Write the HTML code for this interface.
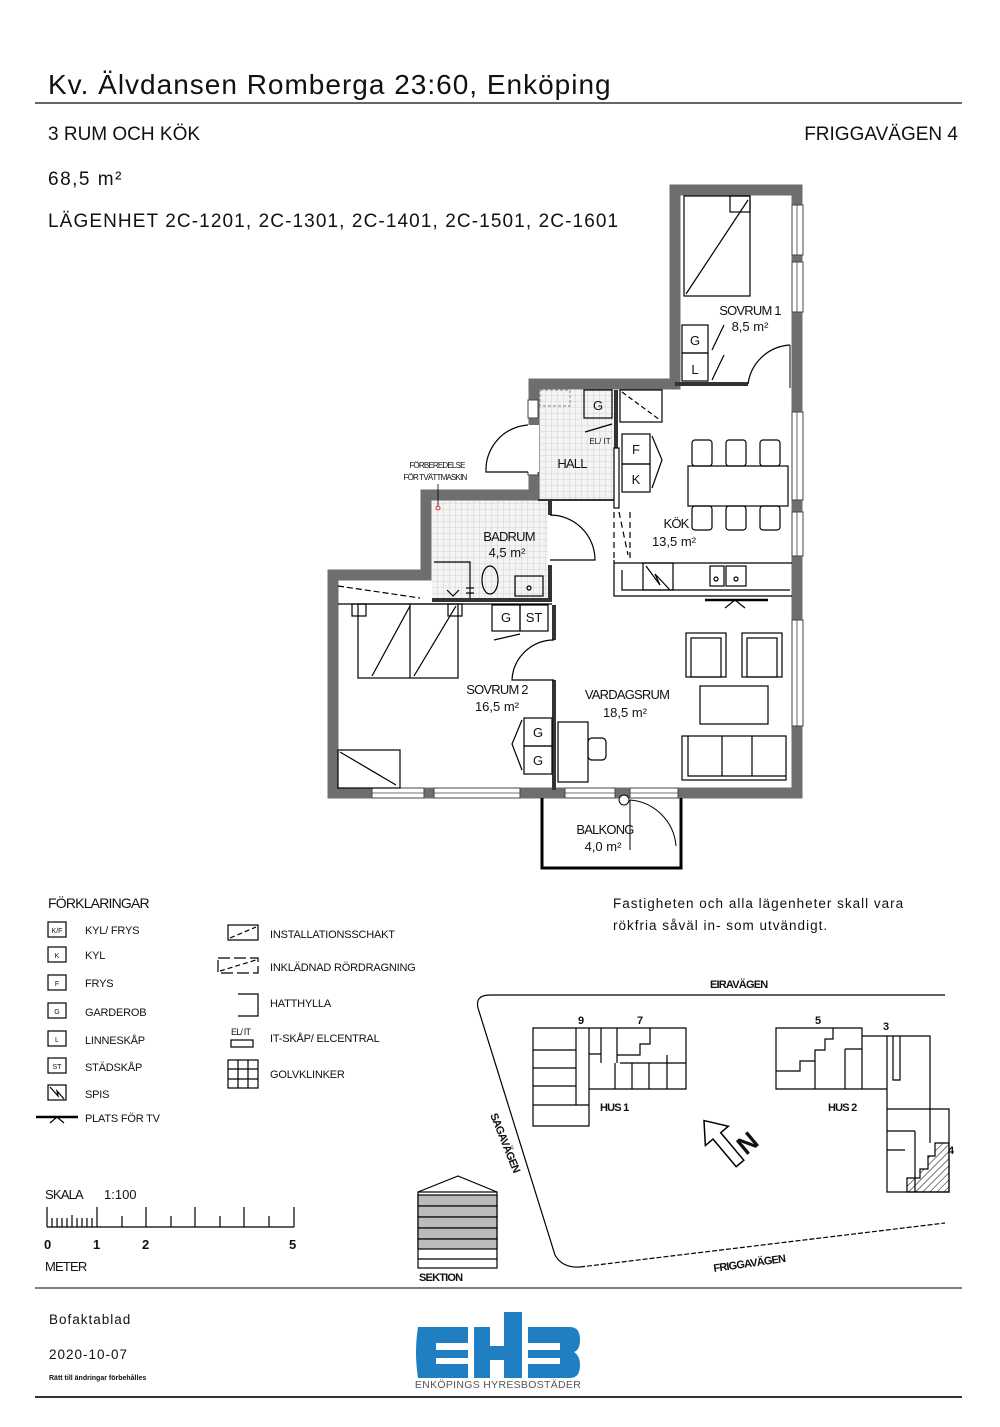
<!DOCTYPE html>
<html><head><meta charset="utf-8"><style>
html,body{margin:0;padding:0;background:#fff}
svg{display:block}
text{font-family:"Liberation Sans",sans-serif;fill:#111}
.c{letter-spacing:-0.8px}
</style></head><body>
<svg width="1000" height="1427" viewBox="0 0 1000 1427" xmlns="http://www.w3.org/2000/svg">
<defs>
<pattern id="grid" width="6" height="6" patternUnits="userSpaceOnUse"><rect width="6" height="6" fill="#f4f4f4"/><path d="M6 0V6M0 6H6" stroke="#c8c8c8" stroke-width="0.8"/></pattern>
<pattern id="hatch" width="5" height="5" patternUnits="userSpaceOnUse" patternTransform="rotate(45)"><line x1="0" y1="0" x2="0" y2="5" stroke="#000" stroke-width="1"/></pattern>
</defs>

<!-- header -->
<text x="48" y="94" font-size="28" style="letter-spacing:1px">Kv. Älvdansen Romberga 23:60, Enköping</text>
<line x1="35" y1="103" x2="962" y2="103" stroke="#333" stroke-width="1.5"/>
<text x="48" y="140" font-size="19" style="letter-spacing:0px">3 RUM OCH KÖK</text>
<text x="958" y="140" font-size="19" text-anchor="end" style="letter-spacing:0px">FRIGGAVÄGEN 4</text>
<text x="48" y="185" font-size="19" style="letter-spacing:1.5px">68,5 m²</text>
<text x="48" y="227" font-size="19" style="letter-spacing:1.1px">LÄGENHET 2C-1201, 2C-1301, 2C-1401, 2C-1501, 2C-1601</text>

<!-- floor plan fills -->
<rect x="538" y="390" width="76" height="110" fill="url(#grid)"/>
<rect x="432" y="500" width="116" height="100" fill="url(#grid)"/>

<!-- outer walls -->
<path d="M675 190 H797 V793 H333 V575 H426 V495 H534 V384 H675 Z" fill="none" stroke="#6e6e6e" stroke-width="11"/>
<g fill="#fff" stroke="#444" stroke-width="1">
<rect x="792" y="205" width="11" height="50"/><rect x="792" y="262" width="11" height="50"/>
<rect x="792" y="412" width="11" height="88"/><rect x="792" y="512" width="11" height="44"/>
<rect x="792" y="620" width="11" height="106"/>
<rect x="372" y="788" width="52" height="10"/><rect x="434" y="788" width="86" height="10"/>
<rect x="565" y="788" width="50" height="10"/><rect x="630" y="788" width="48" height="10"/>
<rect x="528" y="400" width="10" height="18" /><rect x="528" y="445" width="10" height="30"/>
</g>
<g stroke="#444" stroke-width="0.8"><line x1="797" y1="205" x2="797" y2="255"/><line x1="797" y1="262" x2="797" y2="312"/><line x1="797" y1="412" x2="797" y2="500"/><line x1="797" y1="512" x2="797" y2="556"/><line x1="797" y1="620" x2="797" y2="726"/><line x1="372" y1="793" x2="424" y2="793"/><line x1="434" y1="793" x2="520" y2="793"/><line x1="565" y1="793" x2="615" y2="793"/><line x1="630" y1="793" x2="678" y2="793"/></g>
<rect x="527" y="425" width="12" height="47" fill="#fff"/>
<path d="M528 425 A45 45 0 0 0 486 472 H528" fill="none" stroke="#000" stroke-width="1.2"/>

<!-- balkong -->
<path d="M542 798 V868 H681 V798" fill="none" stroke="#000" stroke-width="3"/>
<path d="M630 800 A50 50 0 0 1 676 846" fill="none" stroke="#000" stroke-width="1"/>
<line x1="630" y1="800" x2="630" y2="850" stroke="#000" stroke-width="1"/>
<circle cx="624" cy="800" r="5" fill="#fff" stroke="#000"/>

<!-- interior walls -->
<g stroke="#333" stroke-width="4" fill="none">
<line x1="675" y1="384" x2="748" y2="384"/>
<line x1="616" y1="390" x2="616" y2="508"/>
<line x1="432" y1="600" x2="552" y2="600"/>
<line x1="550" y1="500" x2="550" y2="515"/>
<line x1="550" y1="565" x2="550" y2="600"/>
<line x1="554" y1="605" x2="554" y2="640"/>
<line x1="554" y1="680" x2="554" y2="790"/>
<line x1="538" y1="500" x2="614" y2="500" stroke-width="2"/>
</g>
<path d="M790 345 A45 45 0 0 0 748 384" fill="none" stroke="#000" stroke-width="1.2"/>
<line x1="790" y1="345" x2="790" y2="388" stroke="#000"/>
<path d="M550 515 A45 45 0 0 1 595 560 H550" fill="none" stroke="#000" stroke-width="1.2"/>
<path d="M554 640 A42 42 0 0 0 512 680 H554" fill="none" stroke="#000" stroke-width="1.2"/>

<!-- sovrum 1 furniture -->
<g stroke="#000" stroke-width="1.2" fill="none">
<rect x="684" y="196" width="66" height="100"/><rect x="730" y="196" width="20" height="16"/>
<line x1="686" y1="294" x2="748" y2="200"/>
<rect x="682" y="325" width="26" height="28"/><rect x="682" y="353" width="26" height="28"/>
<line x1="712" y1="350" x2="724" y2="325"/><line x1="712" y1="380" x2="724" y2="355"/>
</g>
<text x="695" y="345" font-size="13" text-anchor="middle">G</text>
<text x="695" y="374" font-size="13" text-anchor="middle">L</text>
<text x="750" y="315" font-size="13" text-anchor="middle" class="c">SOVRUM 1</text>
<text x="750" y="331" font-size="13" text-anchor="middle">8,5 m²</text>

<!-- hall / kitchen -->
<g stroke="#000" stroke-width="1.2" fill="none">
<rect x="584" y="390" width="28" height="28"/>
<rect x="620" y="390" width="42" height="32"/><line x1="622" y1="392" x2="660" y2="420" stroke-dasharray="5,3"/>
<line x1="585" y1="432" x2="612" y2="424"/>
<rect x="622" y="434" width="28" height="30"/><rect x="622" y="464" width="28" height="28"/>
<path d="M652 436 L662 460 L652 488"/>
<rect x="540" y="390" width="30" height="16" stroke="#999" stroke-dasharray="3,2"/>
<rect x="614" y="448" width="5" height="60" fill="#fff"/>
<line x1="614" y1="512" x2="614" y2="560" stroke-dasharray="6,4"/><line x1="630" y1="512" x2="630" y2="560" stroke-dasharray="6,4"/>
<line x1="619" y1="512" x2="628" y2="555" stroke-dasharray="6,4"/>
<rect x="688" y="466" width="100" height="40"/>
<rect x="692" y="440" width="20" height="26" rx="3"/><rect x="726" y="440" width="20" height="26" rx="3"/><rect x="760" y="440" width="20" height="26" rx="3"/>
<rect x="692" y="506" width="20" height="24" rx="3"/><rect x="726" y="506" width="20" height="24" rx="3"/><rect x="760" y="506" width="20" height="24" rx="3"/>
<path d="M614 560 V596 H792"/><line x1="614" y1="563" x2="792" y2="563"/>
<path d="M622 570 V590 H790"/>
<rect x="643" y="563" width="30" height="27"/><path d="M646 566 L660 585 L655 574 L670 590"/>
<rect x="710" y="566" width="14" height="20"/><rect x="726" y="566" width="20" height="20"/>
<circle cx="716" cy="579" r="2"/><circle cx="736" cy="579" r="2"/>
<line x1="705" y1="600" x2="768" y2="600" stroke-width="2.5"/><path d="M725 608 L735 600 L745 608"/>
</g>
<text x="598" y="410" font-size="13" text-anchor="middle">G</text>
<text x="600" y="444" font-size="8" text-anchor="middle" fill="#555">EL/ IT</text>
<text x="572" y="468" font-size="13" text-anchor="middle" class="c">HALL</text>
<text x="636" y="454" font-size="13" text-anchor="middle">F</text>
<text x="636" y="484" font-size="13" text-anchor="middle">K</text>
<text x="676" y="528" font-size="13" text-anchor="middle" class="c">KÖK</text>
<text x="674" y="546" font-size="13" text-anchor="middle">13,5 m²</text>

<!-- badrum -->
<text x="437" y="468" font-size="8" text-anchor="middle" class="c">FÖRBEREDELSE</text>
<text x="435" y="480" font-size="8" text-anchor="middle" class="c">FÖR TVÄTTMASKIN</text>
<line x1="438" y1="484" x2="438" y2="506" stroke="#000" stroke-width="0.8"/>
<circle cx="438" cy="508" r="2" fill="none" stroke="#c33"/>
<text x="509" y="541" font-size="13" text-anchor="middle" class="c">BADRUM</text>
<text x="507" y="557" font-size="13" text-anchor="middle">4,5 m²</text>
<g stroke="#000" stroke-width="1.2" fill="none">
<path d="M434 562 H470 V598"/>
<ellipse cx="490" cy="580" rx="8" ry="14"/>
<rect x="515" y="576" width="28" height="20"/><circle cx="529" cy="588" r="2"/>
<path d="M447 590 L453 596 L459 590"/><line x1="466" y1="588" x2="474" y2="588"/><line x1="466" y1="593" x2="474" y2="593"/>
</g>

<!-- sovrum 2 -->
<g stroke="#000" stroke-width="1.2" fill="none">
<line x1="338" y1="586" x2="420" y2="598" stroke-dasharray="6,3"/>
<line x1="338" y1="604" x2="552" y2="604"/>
<rect x="358" y="604" width="100" height="74"/>
<rect x="352" y="604" width="14" height="12"/><rect x="448" y="604" width="14" height="12"/>
<line x1="372" y1="676" x2="410" y2="606"/><line x1="414" y1="676" x2="456" y2="606"/><line x1="410" y1="604" x2="410" y2="678"/>
<rect x="492" y="605" width="28" height="26"/><rect x="520" y="605" width="28" height="26"/>
<line x1="494" y1="640" x2="520" y2="634"/>
<rect x="524" y="718" width="28" height="28"/><rect x="524" y="746" width="28" height="28"/>
<path d="M522 720 L512 744 L522 770"/>
<rect x="338" y="750" width="62" height="38"/><line x1="340" y1="752" x2="396" y2="785"/>
</g>
<text x="506" y="622" font-size="13" text-anchor="middle">G</text>
<text x="534" y="622" font-size="13" text-anchor="middle">ST</text>
<text x="538" y="737" font-size="13" text-anchor="middle">G</text>
<text x="538" y="765" font-size="13" text-anchor="middle">G</text>
<text x="497" y="694" font-size="13" text-anchor="middle" class="c">SOVRUM 2</text>
<text x="497" y="711" font-size="13" text-anchor="middle">16,5 m²</text>

<!-- vardagsrum -->
<g stroke="#000" stroke-width="1.2" fill="none">
<rect x="686" y="633" width="40" height="44"/><rect x="691" y="638" width="30" height="39"/>
<rect x="742" y="633" width="40" height="44"/><rect x="747" y="638" width="30" height="39"/>
<rect x="700" y="686" width="68" height="38"/>
<rect x="682" y="736" width="104" height="44"/><path d="M688 736 V776 H786"/><line x1="722" y1="736" x2="722" y2="776"/><line x1="752" y1="736" x2="752" y2="776"/>
<rect x="558" y="722" width="30" height="60"/><rect x="588" y="738" width="18" height="22" rx="4"/>
</g>
<text x="627" y="699" font-size="13" text-anchor="middle" class="c">VARDAGSRUM</text>
<text x="625" y="717" font-size="13" text-anchor="middle">18,5 m²</text>
<text x="605" y="834" font-size="13" text-anchor="middle" class="c">BALKONG</text>
<text x="603" y="851" font-size="13" text-anchor="middle">4,0 m²</text>

<!-- legend -->
<text x="48" y="908" font-size="14" class="c">FÖRKLARINGAR</text>
<g stroke="#000" stroke-width="1.2" fill="none">
<rect x="48" y="922" width="18" height="15"/><rect x="48" y="947" width="18" height="15"/>
<rect x="48" y="975" width="18" height="15"/><rect x="48" y="1003" width="18" height="15"/>
<rect x="48" y="1031" width="18" height="15"/><rect x="48" y="1058" width="18" height="15"/>
<rect x="48" y="1085" width="18" height="15"/><path d="M50 1087 L58 1096 L57 1091 L64 1099"/>
<line x1="36" y1="1117" x2="78" y2="1117" stroke-width="2.5"/><path d="M50 1123 L57 1117 L64 1123"/>
<rect x="228" y="925" width="30" height="15"/><line x1="230" y1="938" x2="256" y2="927" stroke-dasharray="5,3"/>
<rect x="218" y="958" width="40" height="15" stroke-dasharray="12,4"/><line x1="220" y1="971" x2="256" y2="960" stroke-dasharray="5,3"/>
<path d="M238 994 H258 V1016 H238"/>
<rect x="231" y="1040" width="22" height="7"/>
<rect x="228" y="1060" width="30" height="28"/><path d="M238 1060 V1088 M248 1060 V1088 M228 1069 H258 M228 1079 H258"/>
</g>
<g font-size="7" text-anchor="middle"><text x="57" y="933">K/F</text><text x="57" y="958">K</text><text x="57" y="986">F</text><text x="57" y="1014">G</text><text x="57" y="1042">L</text><text x="57" y="1069">ST</text></g>
<text x="231" y="1035" font-size="9" class="c">EL/ IT</text>
<g font-size="11" style="letter-spacing:-0.2px">
<text x="85" y="934">KYL/ FRYS</text><text x="85" y="959">KYL</text><text x="85" y="987">FRYS</text><text x="85" y="1016">GARDEROB</text><text x="85" y="1044">LINNESKÅP</text><text x="85" y="1071">STÄDSKÅP</text><text x="85" y="1098">SPIS</text><text x="85" y="1122">PLATS FÖR TV</text>
<text x="270" y="938">INSTALLATIONSSCHAKT</text><text x="270" y="971">INKLÄDNAD RÖRDRAGNING</text><text x="270" y="1007">HATTHYLLA</text><text x="270" y="1042">IT-SKÅP/ ELCENTRAL</text><text x="270" y="1078">GOLVKLINKER</text>
</g>

<text x="613" y="908" font-size="13.5" style="letter-spacing:1px">Fastigheten och alla lägenheter skall vara</text>
<text x="613" y="930" font-size="13.5" style="letter-spacing:1px">rökfria såväl in- som utvändigt.</text>

<!-- site map -->
<g stroke="#000" stroke-width="1.2" fill="none">
<path d="M945 995 H490 Q475 995 478 1008 L555 1255 Q562 1268 580 1267"/>
<path d="M580 1267 L945 1223" stroke-dasharray="5,2"/>
<path d="M533 1028 H686 V1089 H589 V1126 H533 Z"/>
<path d="M533 1050 H576 M533 1068 H576 M533 1086 H576 M533 1105 H589 M576 1028 V1105 M589 1028 V1089 M589 1054 H601 V1063 M601 1028 V1063 M617 1028 V1063 M617 1055 H640 V1044 H650 V1028 M620 1063 H686 M615 1063 V1089 M632 1063 V1089 M649 1063 V1089 M667 1055 V1089"/>
<path d="M776 1028 H862 V1036 H930 V1109 H949 V1192 H887 V1089 H776 Z"/>
<path d="M776 1071 H800 V1061 H815 V1050 H825 V1039 H833 V1028 M815 1061 V1089 M862 1036 V1089 M845 1049 H862 M845 1049 V1089 M887 1036 V1089 M893 1036 V1080 H900 V1036 M887 1109 H930 V1143 M887 1131 H915 M915 1131 V1192 M887 1150 H905"/>
<path d="M949 1143 H935 V1156 H928 V1169 H920 V1178 H907 V1192 H949 Z" fill="url(#hatch)"/>
<g transform="translate(722,1142) rotate(-40)">
<path d="M0 -28 L15 -8 L5 -8 L5 28 L-5 28 L-5 -8 L-15 -8 Z" fill="#fff" stroke-width="1.5"/>
</g>
</g>
<text x="0" y="0" font-size="26" font-weight="bold" transform="translate(746,1156) rotate(-40)">N</text>
<g font-size="11" font-weight="bold" class="c">
<text x="710" y="988">EIRAVÄGEN</text>
<text x="578" y="1024">9</text><text x="637" y="1024">7</text><text x="815" y="1024">5</text><text x="883" y="1030">3</text><text x="948" y="1154">4</text>
<text x="600" y="1111">HUS 1</text><text x="828" y="1111">HUS 2</text>
<text x="0" y="0" transform="translate(490,1115) rotate(68)">SAGAVÄGEN</text>
<text x="0" y="0" transform="translate(714,1272) rotate(-8)">FRIGGAVÄGEN</text>
</g>

<!-- section -->
<g stroke="#000" stroke-width="1.2">
<path d="M418 1192 L458 1176 L497 1192" fill="none"/>
<rect x="418" y="1192" width="79" height="76" fill="#fff"/>
<rect x="418" y="1195" width="79" height="11" fill="#bbb"/><rect x="418" y="1206" width="79" height="11" fill="#bbb"/>
<rect x="418" y="1217" width="79" height="11" fill="#bbb"/><rect x="418" y="1228" width="79" height="11" fill="#bbb"/>
<rect x="418" y="1239" width="79" height="10" fill="#bbb"/><line x1="418" y1="1259" x2="497" y2="1259"/>
</g>
<text x="419" y="1281" font-size="11" font-weight="bold" class="c">SEKTION</text>

<!-- scale -->
<text x="45" y="1199" font-size="13" class="c">SKALA</text><text x="104" y="1199" font-size="13">1:100</text>
<g stroke="#000" stroke-width="1.2">
<line x1="47" y1="1227" x2="294" y2="1227"/>
<line x1="47" y1="1207" x2="47" y2="1227"/><line x1="97" y1="1207" x2="97" y2="1227"/><line x1="146" y1="1207" x2="146" y2="1227"/>
<line x1="195" y1="1207" x2="195" y2="1227"/><line x1="244" y1="1207" x2="244" y2="1227"/><line x1="294" y1="1207" x2="294" y2="1227"/>
<line x1="122" y1="1216" x2="122" y2="1227"/><line x1="171" y1="1216" x2="171" y2="1227"/><line x1="220" y1="1216" x2="220" y2="1227"/><line x1="269" y1="1216" x2="269" y2="1227"/>
<path d="M52 1218V1227M57 1218V1227M62 1218V1227M67 1218V1227M72 1215V1227M77 1218V1227M82 1218V1227M87 1218V1227M92 1218V1227"/>
</g>
<g font-size="13" font-weight="bold"><text x="44" y="1249">0</text><text x="93" y="1249">1</text><text x="142" y="1249">2</text><text x="289" y="1249">5</text></g>
<text x="45" y="1271" font-size="13" class="c">METER</text>

<line x1="35" y1="1288" x2="962" y2="1288" stroke="#555" stroke-width="1.5"/>
<text x="49" y="1324" font-size="13.5" style="letter-spacing:1px">Bofaktablad</text>
<text x="49" y="1359" font-size="13.5" style="letter-spacing:1px">2020-10-07</text>
<text x="49" y="1380" font-size="7" font-weight="bold">Rätt till ändringar förbehålles</text>

<!-- EHB logo -->
<g fill="#1f7fc2">
<path d="M418 1327 H468 V1343 H436 V1350 H468 V1358 H436 V1364 H468 V1378 H418 Q414 1352 418 1327 Z"/>
<path d="M474 1327 H490 V1346 H504 V1312 H522 V1378 H504 V1360 H490 V1378 H474 Z"/>
<path d="M528 1327 H570 Q580 1327 580 1340 Q580 1350 574 1352 Q580 1356 580 1365 Q580 1378 570 1378 H528 V1364 H560 V1358 H528 V1350 H560 V1343 H528 Z"/>
</g>
<text x="498" y="1388" font-size="10.5" text-anchor="middle" style="fill:#555;letter-spacing:0.3px">ENKÖPINGS HYRESBOSTÄDER</text>
<line x1="35" y1="1397" x2="962" y2="1397" stroke="#333" stroke-width="2"/>
</svg>
</body></html>
